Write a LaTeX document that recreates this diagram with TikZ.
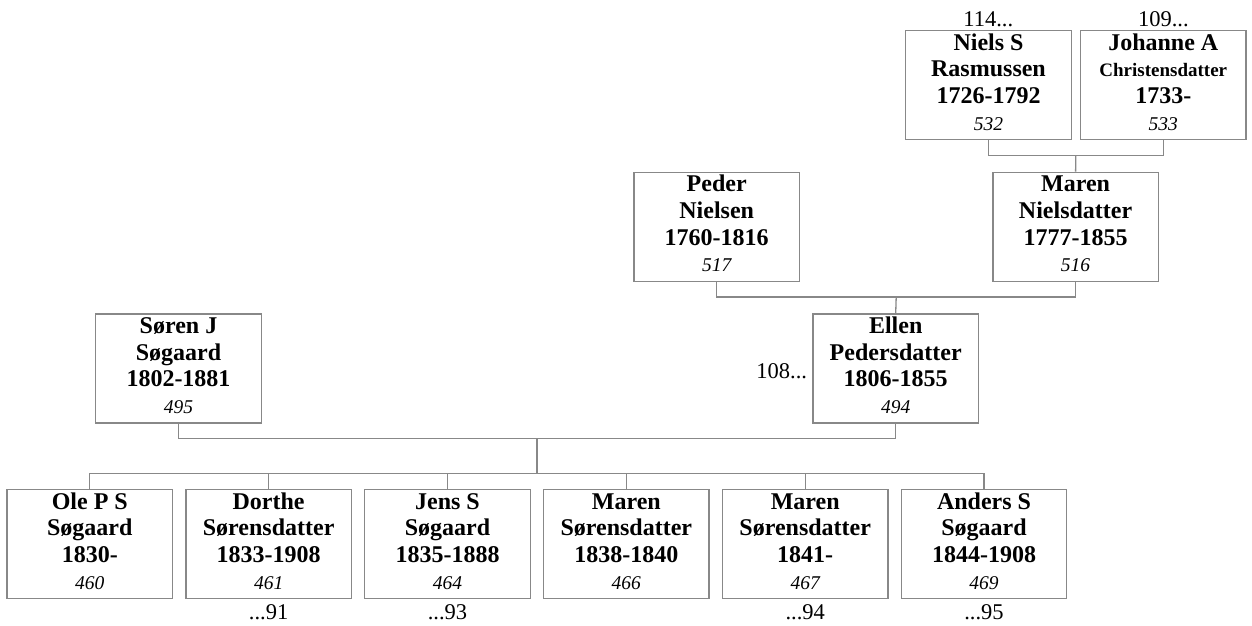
\documentclass[tikz,border=0pt]{standalone}
\usepackage{fontspec}
\setmainfont{Liberation Serif}
\usetikzlibrary{calc}
\definecolor{lc}{RGB}{136,136,136}
\tikzset{
 pbox/.style={draw=lc, line width=1.3pt, minimum width=165.5pt, minimum height=109pt, inner sep=0pt, fill=white},
 nm/.style={font=\bfseries\fontsize{24}{26}\selectfont, inner sep=0pt, anchor=base},
 num/.style={font=\itshape\fontsize{19.5}{21}\selectfont, inner sep=0pt, anchor=base},
 refl/.style={font=\fontsize{22.5}{24}\selectfont, inner sep=0pt, anchor=base},
 conn/.style={draw=lc, line width=1.3pt},
}
\newcommand\pbx[7]{%
 \node[pbox] (#1) at (#2,#3) {};
 \node[nm] (#1-a) at ($(#1.north)+(0,20)$) {#4};
 \node[nm] (#1-b) at ($(#1.north)+(0,46.7)$) {#5};
 \node[nm] (#1-c) at ($(#1.north)+(0,73.4)$) {#6};
 \node[num] (#1-d) at ($(#1.north)+(0,100)$) {#7};
}
\begin{document}
\begin{tikzpicture}[x=1pt,y=-1pt]
\useasboundingbox (0,0) rectangle (1252,625);
% connector junctions
\coordinate (m1) at (1075.8,155.7);
\coordinate (m2) at (896.2,297);
\coordinate (m3) at (537,438.7);
\coordinate (cb) at (537,473.7);
% boxes
\pbx{niels}{988.5}{85.3}{Niels S}{Rasmussen}{1726-1792}{532}
\pbx{johanne}{1163.3}{85.3}{Johanne A}{\fontsize{19}{20}\selectfont Christensdatter}{1733-}{533}
\pbx{peder}{716.7}{226.8}{Peder}{Nielsen}{1760-1816}{517}
\pbx{maren}{1075.6}{226.8}{Maren}{Nielsdatter}{1777-1855}{516}
\pbx{soren}{178.5}{368.5}{Søren J}{Søgaard}{1802-1881}{495}
\pbx{ellen}{895.7}{368.5}{Ellen}{Pedersdatter}{1806-1855}{494}
\pbx{ole}{89.8}{544.2}{Ole P S}{Søgaard}{1830-}{460}
\pbx{dorthe}{268.65}{544.2}{Dorthe}{Sørensdatter}{1833-1908}{461}
\pbx{jens}{447.5}{544.2}{Jens S}{Søgaard}{1835-1888}{464}
\pbx{maren2}{626.35}{544.2}{Maren}{Sørensdatter}{1838-1840}{466}
\pbx{maren3}{805.2}{544.2}{Maren}{Sørensdatter}{1841-}{467}
\pbx{anders}{984}{544.2}{Anders S}{Søgaard}{1844-1908}{469}
\draw[conn] (niels.south) |- (m1) -| (johanne.south);
\draw[conn] (m1) -- (maren.north);
\draw[conn] (peder.south) |- (m2) -| (maren.south);
\draw[conn] (m2) -- (ellen.north);
\draw[conn] (soren.south) |- (m3) -| (ellen.south);
\draw[conn] (m3) -- (cb);
\draw[conn] (ole.north) |- (cb) -| (anders.north);
\foreach \c in {dorthe,jens,maren2,maren3}
  \draw[conn] (\c.north) -- (\c.north |- cb);
% references
\node[refl] (r114) at (988.3,26.7) {114...};
\node[refl] (r109) at (1163.3,26.7) {109...};
\node[refl, anchor=base east] (r108) at (807.3,378.3) {108...};
\node[refl] (r91) at (268.65,619) {...91};
\node[refl] (r93) at (447.5,619) {...93};
\node[refl] (r94) at (805.2,619) {...94};
\node[refl] (r95) at (984,619) {...95};
\end{tikzpicture}
\end{document}
